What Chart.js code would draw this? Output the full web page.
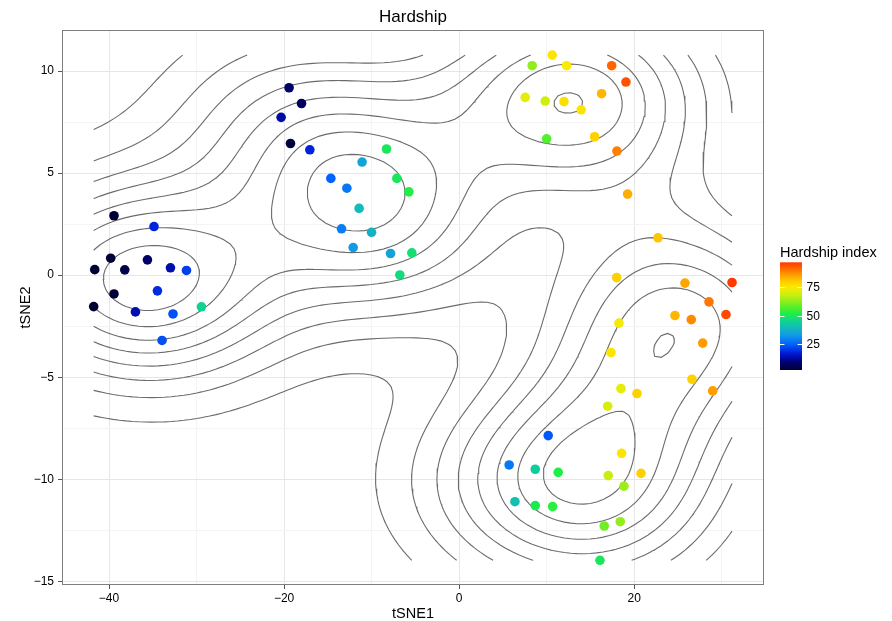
<!DOCTYPE html>
<html>
<head>
<meta charset="utf-8">
<script src="https://cdn.jsdelivr.net/npm/chart.js@4.4.1/dist/chart.umd.min.js"></script>
<style>
  html, body { margin: 0; padding: 0; background: #ffffff; }
  #wrap { width: 892px; height: 621px; }
</style>
</head>
<body>
<div id="wrap"><canvas id="c" width="892" height="621"></canvas></div>
<script>
// ---------------- data ----------------
const tsne1 = [
  -39.43, -34.86, -39.81, -41.63, -38.20, -35.61, -32.98, -31.15, -39.43, -34.47,
  -41.75, -36.98, -32.69, -29.44, -33.94,
  -19.43, -18.01, -20.34, -19.27, -17.06, -8.30, -11.09, -14.66, -12.83, -7.12,
  -5.75, -11.43, -13.44, -10.01, -12.11, -7.84, -5.41, -6.78,
  10.63, 8.34, 12.27, 17.42, 19.05, 7.54, 9.83, 11.97, 16.27, 13.94,
  9.99, 15.47, 18.02, 19.24,
  22.71, 17.99, 25.79, 31.17, 28.54, 24.65, 26.51, 30.48, 18.25, 27.82,
  17.34, 26.59, 28.96, 18.48, 20.31, 16.96,
  10.17, 18.56, 5.71, 8.69, 11.31, 17.03, 20.77, 18.82, 6.37, 8.69,
  10.67, 16.57, 18.40, 16.08
];
const tsne2 = [
  2.91, 2.38, 0.83, 0.27, 0.26, 0.75, 0.36, 0.23, -0.92, -0.77,
  -1.54, -1.80, -1.90, -1.55, -3.20,
  9.18, 8.41, 7.73, 6.45, 6.14, 6.18, 5.54, 4.74, 4.26, 4.74,
  4.08, 3.27, 2.27, 2.10, 1.35, 1.06, 1.09, 0.01,
  10.78, 10.26, 10.26, 10.26, 9.46, 8.71, 8.53, 8.50, 8.89, 8.10,
  6.68, 6.78, 6.08, 3.97,
  1.83, -0.12, -0.39, -0.36, -1.31, -1.98, -2.18, -1.93, -2.35, -3.33,
  -3.79, -5.10, -5.67, -5.56, -5.80, -6.42,
  -7.86, -8.73, -9.30, -9.51, -9.66, -9.82, -9.71, -10.34, -11.10, -11.29,
  -11.34, -12.29, -12.08, -13.97
];
const hardship = [
  3, 18, 3, 2, 5, 8, 14, 21, 3, 19,
  2, 14, 23, 45, 23,
  8, 7, 13, 4, 18, 50, 35, 25, 28, 50,
  52, 40, 29, 38, 33, 35, 48, 47,
  76, 63, 75, 92, 94, 72, 69, 77, 83, 76,
  57, 79, 89, 84,
  81, 79, 85, 97, 90, 83, 88, 95, 74, 86,
  76, 79, 86, 72, 79, 70,
  24, 76, 28, 44, 52, 68, 79, 64, 41, 51,
  53, 60, 63, 50
];
const xTickLabels = [-40, -20, 0, 20];
const yTickLabels = [-15, -10, -5, 0, 5, 10];
const legendTicks = [25, 50, 75];

// ---------------- colour scale ----------------
const colourStops = [
  [2.5, '#000033'], [10, '#00007a'], [17, '#0019d6'], [25, '#0062ff'],
  [33, '#129ae6'], [40, '#12bcb8'], [46, '#10d68a'], [52, '#20ee44'],
  [60, '#70ee22'], [68, '#c8ee10'], [75, '#fbeb00'], [82, '#ffbf00'],
  [88, '#ff8a00'], [93, '#ff5a00'], [97, '#ff3a00']
];
const cLo = colourStops[0][0], cHi = colourStops[colourStops.length - 1][0];
function hexRgb(h) { return [parseInt(h.slice(1,3),16), parseInt(h.slice(3,5),16), parseInt(h.slice(5,7),16)]; }
function colourFor(v) {
  if (v <= cLo) return colourStops[0][1];
  if (v >= cHi) return colourStops[colourStops.length - 1][1];
  for (let k = 0; k < colourStops.length - 1; k++) {
    const [v0, c0] = colourStops[k], [v1, c1] = colourStops[k + 1];
    if (v >= v0 && v <= v1) {
      const t = (v - v0) / (v1 - v0), a = hexRgb(c0), b = hexRgb(c1);
      return 'rgb(' + a.map((q, i) => Math.round(q + t * (b[i] - q))).join(',') + ')';
    }
  }
  return colourStops[0][1];
}

// ---------------- 2D density (as MASS::kde2d, n = 100) ----------------
function quantile7(arr, p) {
  const s = arr.slice().sort((a, b) => a - b);
  const h = (s.length - 1) * p, lo = Math.floor(h);
  return s[lo] + (h - lo) * ((s[Math.min(lo + 1, s.length - 1)]) - s[lo]);
}
function bandwidthNrd(x) {
  const n = x.length, m = x.reduce((a, b) => a + b, 0) / n;
  const sd = Math.sqrt(x.reduce((a, b) => a + (b - m) * (b - m), 0) / (n - 1));
  const iqr = (quantile7(x, 0.75) - quantile7(x, 0.25)) / 1.34;
  return 4 * 1.06 * Math.min(sd, iqr) * Math.pow(n, -0.2);
}
function kde2d(x, y, n) {
  const xmin = Math.min(...x), xmax = Math.max(...x), ymin = Math.min(...y), ymax = Math.max(...y);
  const gx = [], gy = [];
  for (let i = 0; i < n; i++) { gx.push(xmin + (xmax - xmin) * i / (n - 1)); gy.push(ymin + (ymax - ymin) * i / (n - 1)); }
  const hx = bandwidthNrd(x) / 4, hy = bandwidthNrd(y) / 4;
  const N = x.length, dn = (u) => Math.exp(-0.5 * u * u) / Math.sqrt(2 * Math.PI);
  const ax = gx.map(g => x.map(v => dn((g - v) / hx)));
  const ay = gy.map(g => y.map(v => dn((g - v) / hy)));
  const z = [];
  for (let i = 0; i < n; i++) {
    const row = [];
    for (let j = 0; j < n; j++) {
      let s = 0;
      for (let k = 0; k < N; k++) s += ax[i][k] * ay[j][k];
      row.push(s / (N * hx * hy));
    }
    z.push(row);
  }
  return { gx, gy, z };
}
function rPretty(lo, up, ndiv) {
  const h = 1.5, h5 = 0.5 + 1.5 * h, minN = Math.floor(ndiv / 3);
  const dx = up - lo;
  let cell = Math.max(Math.abs(lo), Math.abs(up));
  let U = 1 + ((h5 >= 1.5 * h + 0.5) ? 1 / (1 + h) : 1.5 / (1 + h5));
  U *= Math.max(1, ndiv) * 2.220446e-16;
  if (dx < cell * U * 3) { if (cell > 10) cell = 9 + cell / 10; cell *= 0.75; if (minN > 1) cell /= minN; }
  else { cell = dx; if (ndiv > 1) cell /= ndiv; }
  const base = Math.pow(10, Math.floor(Math.log10(cell)));
  let unit = base, t;
  if ((t = 2 * base) - cell < h * (cell - unit)) { unit = t;
    if ((t = 5 * base) - cell < h5 * (cell - unit)) { unit = t;
      if ((t = 10 * base) - cell < h * (cell - unit)) unit = t; } }
  let ns = Math.floor(lo / unit + 1e-7), nu = Math.ceil(up / unit - 1e-7);
  while (ns * unit > lo + 1e-10 * unit) ns--;
  while (nu * unit < up - 1e-10 * unit) nu++;
  const out = [];
  for (let i = ns; i <= nu; i++) out.push(i * unit);
  return out;
}
function contourLines(gx, gy, z, level) {
  const nx = gx.length, ny = gy.length, segs = [], pts = new Map();
  const edgeH = (i, j) => { const k = 'h' + i + ',' + j; if (!pts.has(k)) { const a = z[i][j], b = z[i+1][j], t = (level - a) / (b - a); pts.set(k, { x: gx[i] + t * (gx[i+1] - gx[i]), y: gy[j] }); } return k; };
  const edgeV = (i, j) => { const k = 'v' + i + ',' + j; if (!pts.has(k)) { const a = z[i][j], b = z[i][j+1], t = (level - a) / (b - a); pts.set(k, { x: gx[i], y: gy[j] + t * (gy[j+1] - gy[j]) }); } return k; };
  for (let i = 0; i < nx - 1; i++) {
    for (let j = 0; j < ny - 1; j++) {
      const v0 = z[i][j], v1 = z[i+1][j], v2 = z[i+1][j+1], v3 = z[i][j+1];
      const code = (v0 > level ? 1 : 0) | (v1 > level ? 2 : 0) | (v2 > level ? 4 : 0) | (v3 > level ? 8 : 0);
      if (code === 0 || code === 15) continue;
      const B = () => edgeH(i, j), R = () => edgeV(i + 1, j), T = () => edgeH(i, j + 1), L = () => edgeV(i, j);
      if (code === 5 || code === 10) {
        const c = (v0 + v1 + v2 + v3) / 4 > level;
        if ((code === 5) === c) { segs.push([B(), R()]); segs.push([L(), T()]); }
        else { segs.push([L(), B()]); segs.push([T(), R()]); }
        continue;
      }
      const e = [];
      if ((v0 > level) !== (v1 > level)) e.push(B());
      if ((v1 > level) !== (v2 > level)) e.push(R());
      if ((v2 > level) !== (v3 > level)) e.push(T());
      if ((v3 > level) !== (v0 > level)) e.push(L());
      if (e.length === 2) segs.push(e);
    }
  }
  const adj = new Map();
  segs.forEach((s, k) => s.forEach(key => { if (!adj.has(key)) adj.set(key, []); adj.get(key).push(k); }));
  const used = new Array(segs.length).fill(false), lines = [];
  const walk = (k, key) => {
    const out = [pts.get(key)];
    while (k !== undefined && !used[k]) {
      used[k] = true;
      const s = segs[k], nxt = s[0] === key ? s[1] : s[0];
      out.push(pts.get(nxt));
      key = nxt;
      k = adj.get(key).find(m => !used[m]);
    }
    return out;
  };
  for (const [key, list] of adj) if (list.length === 1 && !used[list[0]]) lines.push(walk(list[0], key));
  for (let k = 0; k < segs.length; k++) if (!used[k]) lines.push(walk(k, segs[k][0]));
  return lines;
}

const dens = kde2d(tsne1, tsne2, 100);
let zmin = Infinity, zmax = -Infinity;
dens.z.forEach(r => r.forEach(v => { if (v < zmin) zmin = v; if (v > zmax) zmax = v; }));
const levels = rPretty(zmin, zmax, 10);

const datasets = [{
  type: 'scatter',
  data: tsne1.map((x, i) => ({ x: x, y: tsne2[i] })),
  pointBackgroundColor: hardship.map(colourFor),
  pointBorderWidth: 0,
  pointRadius: 4.8,
  pointHoverRadius: 4.8,
  showLine: false
}];
levels.forEach(lv => {
  contourLines(dens.gx, dens.gy, dens.z, lv).forEach(line => {
    datasets.push({
      type: 'scatter', data: line, showLine: true, borderColor: '#6b6b6b', borderWidth: 1.1,
      pointRadius: 0, pointHoverRadius: 0, tension: 0, fill: false
    });
  });
});

// ---------------- drawing ----------------
const FONT = '"Liberation Sans", Arial, Helvetica, sans-serif';
Chart.defaults.font.family = FONT;
const minus = v => (v < 0 ? '\u2212' + Math.abs(v) : String(v));

const decor = {
  id: 'decor',
  beforeDraw(chart) {
    const ctx = chart.ctx;
    ctx.save(); ctx.fillStyle = '#ffffff'; ctx.fillRect(0, 0, chart.width, chart.height); ctx.restore();
  },
  afterDraw(chart) {
    const ctx = chart.ctx, a = chart.chartArea;
    ctx.save();
    ctx.strokeStyle = '#7f7f7f'; ctx.lineWidth = 1;
    ctx.strokeRect(Math.round(a.left) + 0.5, Math.round(a.top) + 0.5, Math.round(a.right - a.left) - 1, Math.round(a.bottom - a.top) - 1);
    ctx.fillStyle = '#000000';
    ctx.textAlign = 'center'; ctx.textBaseline = 'alphabetic';
    ctx.font = '17px ' + FONT;
    ctx.fillText('Hardship', (a.left + a.right) / 2, 22);
    ctx.font = '14.5px ' + FONT;
    ctx.fillText('tSNE1', (a.left + a.right) / 2, 617.5);
    ctx.save();
    ctx.translate(29.5, (a.top + a.bottom) / 2); ctx.rotate(-Math.PI / 2);
    ctx.fillText('tSNE2', 0, 0);
    ctx.restore();
    // colour bar legend
    const bx = 780, bw = 22, bTop = 262.3, bBot = 370;
    const vAt = y => 25 + (344.3 - y) / 1.14;
    const yAt = v => 344.3 - (v - 25) * 1.14;
    const g = ctx.createLinearGradient(0, bBot, 0, bTop);
    const vb = vAt(bBot), vt = vAt(bTop);
    for (let k = 0; k <= 40; k++) { const v = vb + (vt - vb) * k / 40; g.addColorStop(k / 40, colourFor(v)); }
    ctx.fillStyle = g; ctx.fillRect(bx, bTop, bw, bBot - bTop);
    ctx.strokeStyle = '#ffffff'; ctx.lineWidth = 1;
    ctx.font = '12px ' + FONT; ctx.textAlign = 'left'; ctx.textBaseline = 'middle'; ctx.fillStyle = '#000000';
    legendTicks.forEach(v => {
      const y = Math.round(yAt(v)) + 0.5;
      ctx.beginPath(); ctx.moveTo(bx, y); ctx.lineTo(bx + 4.4, y); ctx.moveTo(bx + bw - 4.4, y); ctx.lineTo(bx + bw, y); ctx.stroke();
      ctx.fillText(String(v), 806.5, yAt(v) + 0.5);
    });
    ctx.fillStyle = '#000000'; ctx.textBaseline = 'alphabetic';
    ctx.font = '14.5px ' + FONT;
    ctx.fillText('Hardship index', 780, 257);
    ctx.restore();
  }
};

new Chart(document.getElementById('c'), {
  type: 'scatter',
  data: { datasets: datasets },
  options: {
    responsive: false, animation: false, devicePixelRatio: 1,
    layout: { padding: { left: 0, right: 128, top: 30, bottom: 0 } },
    plugins: { legend: { display: false }, tooltip: { enabled: false }, title: { display: false } },
    events: [],
    scales: {
      x: {
        type: 'linear', min: -45.37, max: 34.82,
        afterFit: s => { s.height = 36; },
        border: { display: false },
        grid: {
          color: c => (xTickLabels.includes(c.tick.value) ? '#e6e6e6' : '#f4f4f4'),
          lineWidth: 1,
          tickColor: c => (xTickLabels.includes(c.tick.value) ? '#555555' : 'rgba(0,0,0,0)'),
          tickLength: 4, drawTicks: true
        },
        ticks: {
          stepSize: 10, includeBounds: false, autoSkip: false, maxRotation: 0, padding: 2,
          color: '#000000', font: { size: 12 },
          callback: v => (xTickLabels.includes(v) ? minus(v) : '')
        }
      },
      y: {
        type: 'linear', min: -15.18, max: 12.01,
        afterFit: s => { s.width = 62; },
        border: { display: false },
        grid: {
          color: c => (yTickLabels.includes(c.tick.value) ? '#e6e6e6' : '#f4f4f4'),
          lineWidth: 1,
          tickColor: c => (yTickLabels.includes(c.tick.value) ? '#555555' : 'rgba(0,0,0,0)'),
          tickLength: 4, drawTicks: true
        },
        ticks: {
          stepSize: 2.5, includeBounds: false, autoSkip: false, padding: 4,
          color: '#000000', font: { size: 12 },
          callback: v => (yTickLabels.includes(v) ? minus(v) : '')
        }
      }
    }
  },
  plugins: [decor]
});
</script>
</body>
</html>
